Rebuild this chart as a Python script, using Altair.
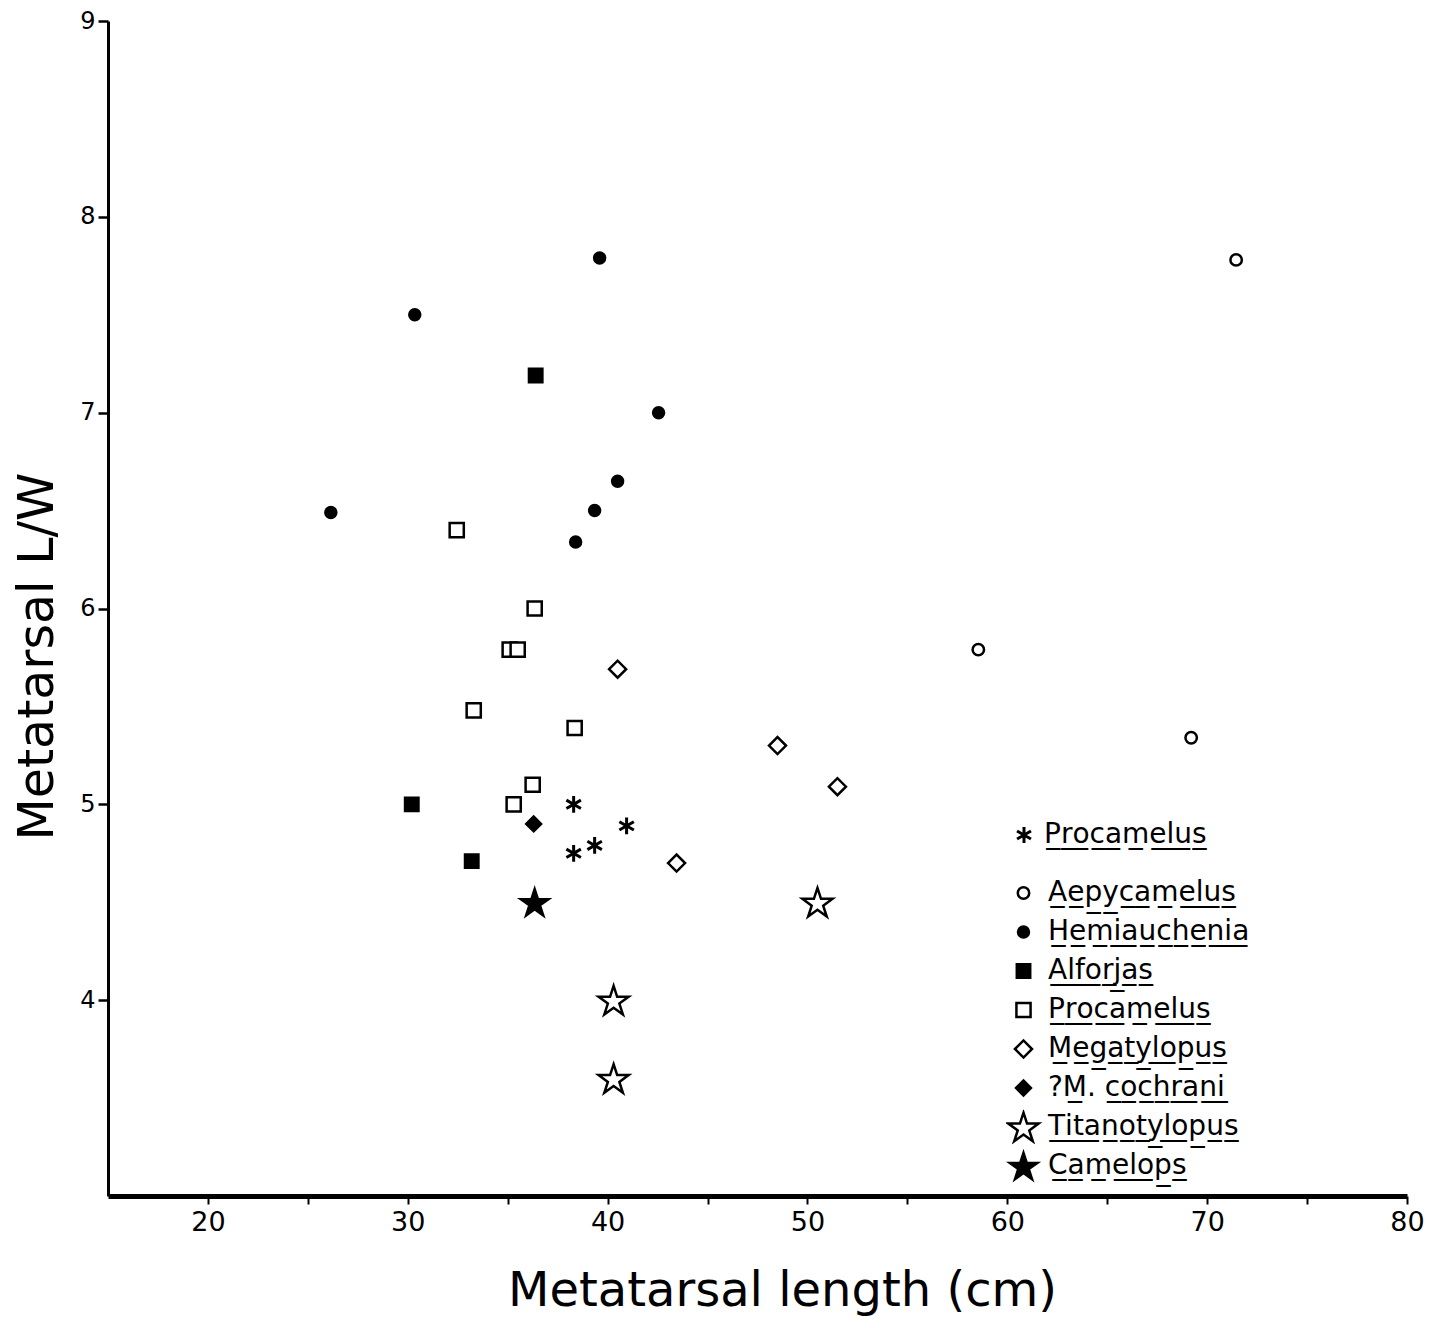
import json
import altair as alt
import pandas as pd

# ---------------- data ----------------
aepy_x = [71.45, 58.55, 69.2]
aepy_y = [7.78, 5.79, 5.34]
hemi_x = [39.6, 30.35, 42.55, 40.5, 39.35, 26.15, 38.4]
hemi_y = [7.79, 7.50, 7.00, 6.65, 6.50, 6.49, 6.34]
alf_x = [36.4, 30.2, 33.2]
alf_y = [7.19, 5.00, 4.71]
proc_x = [32.45, 36.35, 35.1, 35.5, 33.3, 38.35, 36.25, 35.3]
proc_y = [6.40, 6.00, 5.79, 5.79, 5.48, 5.39, 5.10, 5.00]
mega_x = [40.5, 48.5, 51.5, 43.45]
mega_y = [5.69, 5.30, 5.09, 4.70]
coch_x = [36.3]
coch_y = [4.90]
titan_x = [50.5, 40.3, 40.3]
titan_y = [4.50, 4.00, 3.60]
camel_x = [36.35]
camel_y = [4.50]
ast_x = [38.3, 40.95, 39.35, 38.3]
ast_y = [5.00, 4.89, 4.79, 4.75]

species = ["Aepycamelus", "Hemiauchenia", "Alforjas", "Procamelus",
           "Megatylopus", "?M. cochrani", "Titanotylopus", "Camelops"]
ast_group = ["Procamelus"]

x_ticks = [20, 25, 30, 35, 40, 45, 50, 55, 60, 65, 70, 75, 80]
y_ticks = [4, 5, 6, 7, 8, 9]

# ---------------- styling ----------------
STAR = ("M0,-0.9045L0.2245,-0.2135L0.951,-0.2135L0.363,0.2135L0.588,0.9045"
        "L0,0.4775L-0.588,0.9045L-0.363,0.2135L-0.951,-0.2135L-0.2245,-0.2135Z")
ASTERISK = "M0,-1L0,1M-0.866,-0.5L0.866,0.5M-0.866,0.5L0.866,-0.5"

shape_range = ["circle", "circle", "square", "square", "diamond", "diamond", STAR, STAR]
fill_range = ["white", "black", "black", "white", "white", "black", "white", "black"]
stroke_range = ["black"] * len(species)
size_range = [130, 120, 180, 200, 290, 220, 1000, 850]

FONT = "DejaVu Sans"


def ul(s):
    return "".join(ch if ch == " " else ch + "\u0332" for ch in s)


labels = {name: ul(name) for name in species}
labels["?M. cochrani"] = "?" + ul("M") + ". " + ul("cochrani")
label_expr_b = json.dumps(labels, ensure_ascii=False) + "[datum.label]"
label_expr_a = json.dumps({"Procamelus": ul("Procamelus")}, ensure_ascii=False) + "[datum.label]"

# ---------------- tables ----------------
xs = [aepy_x, hemi_x, alf_x, proc_x, mega_x, coch_x, titan_x, camel_x]
ys = [aepy_y, hemi_y, alf_y, proc_y, mega_y, coch_y, titan_y, camel_y]
rows = []
for name, xv, yv in zip(species, xs, ys):
    for a, b in zip(xv, yv):
        rows.append({"x": a, "y": b, "species": name})
df = pd.DataFrame(rows)
df_ast = pd.DataFrame({"x": ast_x, "y": ast_y, "group": ast_group * len(ast_x)})

# ---------------- encodings ----------------
X = alt.X(
    "x:Q",
    scale=alt.Scale(domain=[15, 80], nice=False, zero=False),
    axis=alt.Axis(
        values=x_ticks,
        labelExpr="datum.value % 10 == 0 ? datum.label : ''",
        grid=False, domainColor="black", domainWidth=5,
        tickColor="black", tickWidth=2, tickSize=8,
        labelFont=FONT, labelFontSize=27, labelColor="black", labelPadding=5,
        labelFlush=False, labelOverlap=False,
        title="Metatarsal length (cm)", titleFont=FONT, titleFontSize=48,
        titleFontWeight="normal", titleColor="black",
        titleX=674, titleY=109, titleAlign="center", titleBaseline="alphabetic",
    ),
)
Y = alt.Y(
    "y:Q",
    scale=alt.Scale(domain=[3, 9], nice=False, zero=False),
    axis=alt.Axis(
        values=y_ticks,
        grid=False, domainColor="black", domainWidth=3,
        tickColor="black", tickWidth=2.5, tickSize=10,
        labelFont=FONT, labelFontSize=24, labelColor="black", labelPadding=3,
        labelOverlap=False,
        title="Metatarsal L/W", titleFont=FONT, titleFontSize=49,
        titleFontWeight="normal", titleColor="black",
        titleAngle=270, titleX=-56, titleY=635, titleAlign="center",
        titleBaseline="alphabetic",
    ),
)

legend_b = alt.Legend(
    orient="none", legendX=898, legendY=854.5, title=None,
    labelFont=FONT, labelFontSize=28, labelColor="black", labelOffset=7,
    labelLimit=0, labelExpr=label_expr_b,
    symbolStrokeWidth=2.5,
    clipHeight=35, rowPadding=4, padding=0,
)
legend_a = alt.Legend(
    orient="none", legendX=902, legendY=796.5, title=None,
    labelFont=FONT, labelFontSize=28, labelColor="black", labelOffset=6,
    labelLimit=0, labelExpr=label_expr_a,
    symbolStrokeColor="black", symbolStrokeWidth=3,
    symbolSize=260, symbolFillColor="transparent",
    clipHeight=35, padding=0,
)

main = alt.Chart(df).mark_point(filled=True, strokeWidth=2.5, opacity=1).encode(
    x=X, y=Y,
    shape=alt.Shape("species:N", scale=alt.Scale(domain=species, range=shape_range), legend=legend_b),
    fill=alt.Fill("species:N", scale=alt.Scale(domain=species, range=fill_range), legend=legend_b),
    stroke=alt.Stroke("species:N", scale=alt.Scale(domain=species, range=stroke_range), legend=legend_b),
    size=alt.Size("species:N", scale=alt.Scale(type="ordinal", domain=species, range=size_range), legend=legend_b),
)

ast = alt.Chart(df_ast).mark_point(filled=False, stroke="black", strokeWidth=3, size=280, opacity=1).encode(
    x=X, y=Y,
    shape=alt.Shape("group:N", scale=alt.Scale(domain=ast_group, range=[ASTERISK]), legend=legend_a),
)

chart = (
    alt.layer(main, ast)
    .resolve_scale(shape="independent", fill="independent", size="independent", stroke="independent")
    .resolve_legend(shape="independent", fill="independent", size="independent", stroke="independent")
    .properties(
        width=1299, height=1175,
        autosize=alt.AutoSizeParams(type="none"),
        padding={"left": 100, "top": 13, "right": 20, "bottom": 122},
        background="white",
    )
    .configure_view(stroke=None)
)

chart.save("out.html", embed_options={"renderer": "svg", "actions": False})
